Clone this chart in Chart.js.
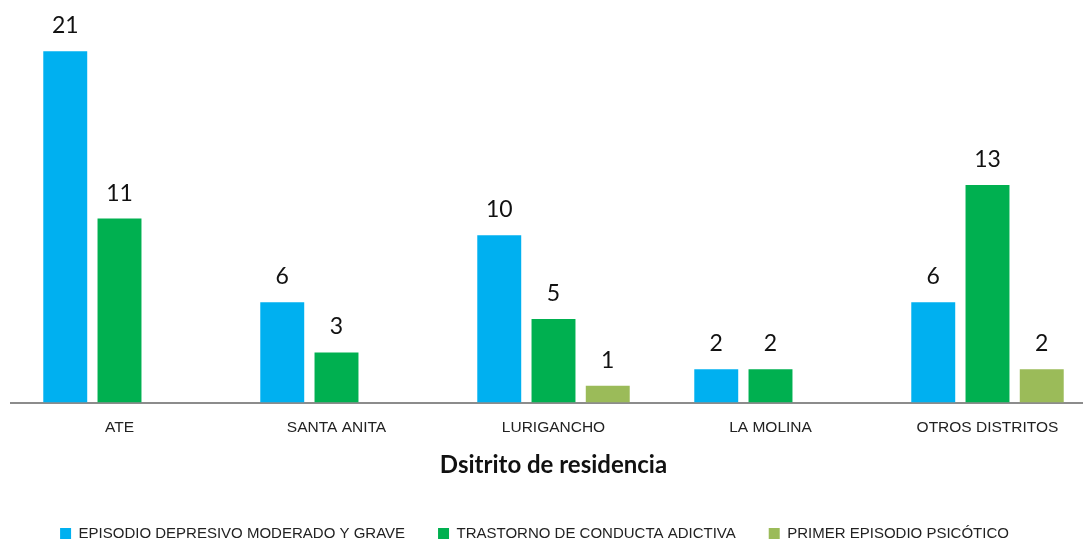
<!DOCTYPE html>
<html>
<head>
<meta charset="utf-8">
<script src="https://cdn.jsdelivr.net/npm/chart.js@4/dist/chart.umd.min.js"></script>
<style>
  html, body { margin: 0; padding: 0; background: #fff; overflow: hidden; }
  #wrap { width: 1096px; height: 543px; position: relative; }
</style>
</head>
<body>
<div id="wrap"><canvas id="distritoChart"></canvas></div>
<script>
const categories = ['ATE', 'SANTA ANITA', 'LURIGANCHO', 'LA MOLINA', 'OTROS DISTRITOS'];
const depresivo = [21, 6, 10, 2, 6];
const adictiva = [11, 3, 5, 2, 13];
const psicotico = [null, null, 1, null, 2];
const seriesNames = ['EPISODIO DEPRESIVO MODERADO Y GRAVE', 'TRASTORNO DE CONDUCTA ADICTIVA', 'PRIMER EPISODIO PSICÓTICO'];

// colores tipo Excel
const blue = '#00B0F0';
const green = '#00B050';
const olive = '#9BBB59';

// etiquetas de valor encima de cada barra
const valueLabels = {
    id: 'valueLabels',
    afterLayout(chart) {
        // el lienzo es algo más ancho que la ventana; recentrar la leyenda en lo visible
        chart.legend.left -= 19;
        chart.legend.right -= 19;
    },
    afterDatasetsDraw(chart) {
        const ctx = chart.ctx;
        ctx.save();
        ctx.font = '23px Lato';
        ctx.fillStyle = '#111';
        ctx.textAlign = 'center';
        ctx.textBaseline = 'alphabetic';
        chart.data.datasets.forEach((ds, i) => {
            chart.getDatasetMeta(i).data.forEach((bar, j) => {
                const v = ds.data[j];
                if (v === null || v === undefined) return;
                ctx.fillText(v, bar.x, bar.y - 18);
            });
        });
        ctx.restore();
    }
};

const ctx = document.getElementById('distritoChart').getContext('2d');
new Chart(ctx, {
    type: 'bar',
    data: {
        labels: categories,
        datasets: [
            { label: seriesNames[0], data: depresivo, backgroundColor: blue },
            { label: seriesNames[1], data: adictiva, backgroundColor: green },
            { label: seriesNames[2], data: psicotico, backgroundColor: olive }
        ]
    },
    options: {
        responsive: true, maintainAspectRatio: false, animation: false,
        layout: { padding: { top: 1, left: 11, right: 0, bottom: -8 } },
        datasets: { bar: { categoryPercentage: 0.75, barPercentage: 0.81 } },
        plugins: {
            tooltip: { enabled: false },
            legend: {
                position: 'bottom',
                labels: {
                    boxWidth: 11, boxHeight: 11, padding: 33,
                    color: '#222',
                    font: { family: 'Liberation Sans', size: 15 }
                }
            }
        },
        scales: {
            x: {
                grid: { display: false },
                border: { display: true, color: '#8c8c8c', width: 2 },
                ticks: {
                    padding: 8, color: '#222',
                    font: { family: 'Liberation Sans', size: 15.5 }
                },
                title: {
                    display: true, text: 'Dsitrito de residencia', color: '#111',
                    font: { family: 'Lato', size: 24, weight: 'bold' },
                    padding: { top: 6, bottom: 13 }
                }
            },
            y: { display: false, min: 0, max: 24 }
        }
    },
    plugins: [valueLabels]
});
</script>
</body>
</html>
